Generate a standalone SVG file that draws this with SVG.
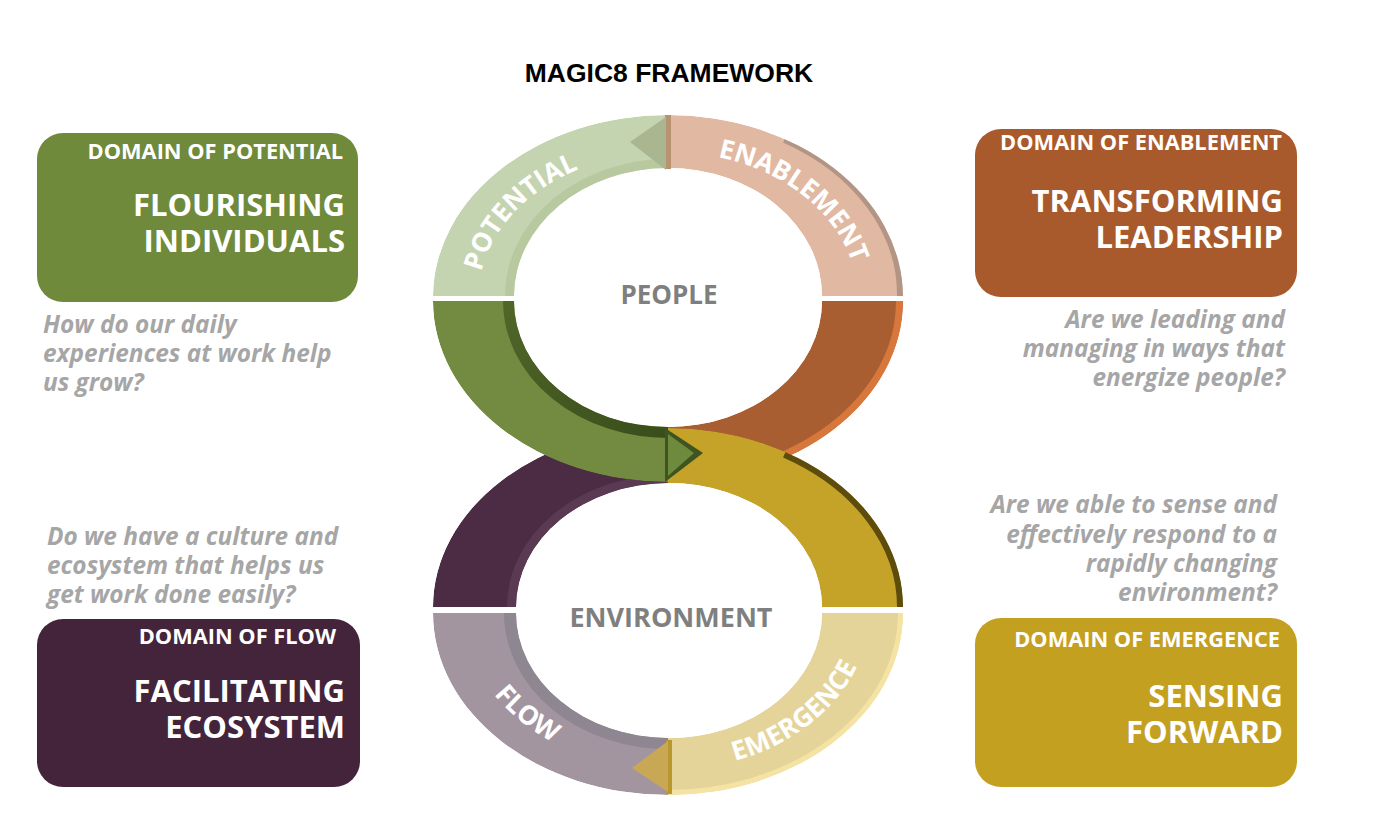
<svg xmlns="http://www.w3.org/2000/svg" width="1378" height="836" viewBox="0 0 1378 836">
<style>
.title{font-family:"Liberation Sans",Arial,sans-serif;font-weight:700;font-size:26.5px;fill:#000}
.dom{font-family:"Open Sans","DejaVu Sans",sans-serif;font-weight:700;font-size:21.8px;fill:#fff}
.big{font-family:"Open Sans","DejaVu Sans",sans-serif;font-weight:700;font-size:31px;fill:#fff}
.q{font-family:"Open Sans","DejaVu Sans",sans-serif;font-weight:700;font-style:italic;font-size:24.4px;fill:#a6a6a6}
.arc{font-family:"Open Sans","DejaVu Sans",sans-serif;font-weight:700;font-size:26.5px;fill:#fff}
.hub{font-family:"Open Sans","DejaVu Sans",sans-serif;font-weight:700;fill:#7f7f7f}
</style>
<defs>
<path id="sPot" d="M 433 296 A 235 182 0 0 1 668 115 L 668 168 A 154 128 0 0 0 514 296 Z"/>
<path id="sEn" d="M 668 115 A 235 182 0 0 1 903 296 L 822 296 A 154 128 0 0 0 668 168 Z"/>
<path id="sGr" d="M 433 301 A 235 181 0 0 0 668 482 L 668 427 A 154 126 0 0 1 514 301 Z"/>
<path id="sOr" d="M 903 301 A 235 181 0 0 1 668 482 L 668 427 A 154 126 0 0 0 822 301 Z"/>
<path id="sPu" d="M 433 607 A 235 179 0 0 1 668 428 L 668 483 A 153 124 0 0 0 516 607 Z"/>
<path id="sYe" d="M 668 428 A 235 179 0 0 1 903 607 L 822 607 A 153 124 0 0 0 668 483 Z"/>
<path id="sFl" d="M 433 613 A 235 182 0 0 0 668 795 L 668 738 A 153 125 0 0 1 516 613 Z"/>
<path id="sEm" d="M 903 613 A 235 182 0 0 1 668 795 L 668 738 A 153 125 0 0 0 822 613 Z"/>
<clipPath id="cPot"><use href="#sPot"/></clipPath>
<clipPath id="cEn"><use href="#sEn"/></clipPath>
<clipPath id="cGr"><use href="#sGr"/></clipPath>
<clipPath id="cOr"><use href="#sOr"/></clipPath>
<clipPath id="cPu"><use href="#sPu"/></clipPath>
<clipPath id="cYe"><use href="#sYe"/></clipPath>
<clipPath id="cFl"><use href="#sFl"/></clipPath>
<clipPath id="cEm"><use href="#sEm"/></clipPath>
<path id="tPot" d="M 478 298 A 188 146 0 0 1 603.7 160.8"/>
<path id="tEn" d="M 700.6 154.2 A 188 146 0 0 1 856 280"/>
<path id="tFl" d="M 470 651.4 A 202 160 0 0 0 598.9 760.4"/>
<path id="tEm" d="M 700 768 A 202 160 0 0 0 868 632.3"/>
<linearGradient id="gGrBand" x1="0" y1="0" x2="1" y2="1">
  <stop offset="0" stop-color="#5a722f"/>
  <stop offset="1" stop-color="#2f4215"/>
</linearGradient>
</defs>

<text class="title" x="669" y="82" text-anchor="middle">MAGIC8 FRAMEWORK</text>

<g id="figure8">
  <g id="seg-flow-top" clip-path="url(#cPu)">
    <use href="#sPu" fill="#4c2c44"/>
    <ellipse cx="668" cy="607" rx="153" ry="124" fill="none" stroke="#5a3a52" stroke-width="16"/>
  </g>
  <g id="seg-enable-bottom" clip-path="url(#cOr)">
    <use href="#sOr" fill="#a95e31"/>
    <path d="M 903 301 A 235 181 0 0 1 785.5 457.8" fill="none" stroke="#d8773c" stroke-width="14"/>
  </g>
  <g id="seg-potential-bottom" clip-path="url(#cGr)">
    <use href="#sGr" fill="#728b40"/>
    <ellipse cx="668" cy="301" rx="154" ry="126" fill="none" stroke="url(#gGrBand)" stroke-width="22"/>
  </g>
  <g id="seg-emergence-top" clip-path="url(#cYe)">
    <use href="#sYe" fill="#c5a228"/>
    <path d="M 785.5 452 A 235 179 0 0 1 903 607" fill="none" stroke="#5e4c0c" stroke-width="12"/>
  </g>
  <g id="seg-potential" clip-path="url(#cPot)">
    <use href="#sPot" fill="#c5d4b0"/>
    <ellipse cx="668" cy="296" rx="154" ry="128" fill="none" stroke="#b8c9a0" stroke-width="18"/>
  </g>
  <g id="seg-enablement" clip-path="url(#cEn)">
    <use href="#sEn" fill="#e1b8a2"/>
    <path d="M 785.5 137 A 235 182 0 0 1 903 296" fill="none" stroke="#b39585" stroke-width="12"/>
  </g>
  <g id="seg-flow" clip-path="url(#cFl)">
    <use href="#sFl" fill="#a3959f"/>
    <ellipse cx="668" cy="613" rx="153" ry="125" fill="none" stroke="#8e8690" stroke-width="22"/>
  </g>
  <g id="seg-emergence" clip-path="url(#cEm)">
    <use href="#sEm" fill="#e5d499"/>
    <ellipse cx="668" cy="613" rx="235" ry="182" fill="none" stroke="#f4e3a2" stroke-width="10"/>
  </g>
  <g id="arrowheads">
    <rect x="665" y="115" width="6" height="54" fill="#b9936f"/>
    <polygon points="666,117 630,142 666,170" fill="#a9b690"/>
    <polygon points="665,428 703,453 665,482" fill="#3f5420"/>
    <polygon points="668,434 694,453 668,476" fill="#6e8a3c"/>
    <rect x="666" y="740" width="6" height="54" fill="#b9972f"/>
    <polygon points="668,741 632,768 668,792" fill="#c8a855"/>
  </g>
</g>

<g id="labels-ring">
  <text class="arc"><textPath href="#tPot" startOffset="50%" text-anchor="middle">POTENTIAL</textPath></text>
  <text class="arc"><textPath href="#tEn" startOffset="50%" text-anchor="middle">ENABLEMENT</textPath></text>
  <text class="arc"><textPath href="#tFl" startOffset="50%" text-anchor="middle">FLOW</textPath></text>
  <text class="arc"><textPath href="#tEm" startOffset="50%" text-anchor="middle">EMERGENCE</textPath></text>
  <text class="hub" x="669" y="304" font-size="26" text-anchor="middle">PEOPLE</text>
  <text class="hub" x="671" y="627" font-size="27" text-anchor="middle">ENVIRONMENT</text>
</g>

<g id="node-potential">
  <rect x="37" y="133" width="321" height="169" rx="26" fill="#6e8a3a"/>
  <text class="dom" x="343" y="159" text-anchor="end">DOMAIN OF POTENTIAL</text>
  <text class="big" x="345" y="216" text-anchor="end">FLOURISHING</text>
  <text class="big" x="345" y="252" text-anchor="end">INDIVIDUALS</text>
  <text class="q" x="43" y="333">How do our daily</text>
  <text class="q" x="43" y="362">experiences at work help</text>
  <text class="q" x="43" y="391">us grow?</text>
</g>

<g id="node-enablement">
  <rect x="975" y="129" width="322" height="168" rx="26" fill="#a85a2c"/>
  <text class="dom" x="1282" y="150" text-anchor="end">DOMAIN OF ENABLEMENT</text>
  <text class="big" x="1283" y="212" text-anchor="end">TRANSFORMING</text>
  <text class="big" x="1283" y="248" text-anchor="end">LEADERSHIP</text>
  <text class="q" x="1285" y="328" text-anchor="end">Are we leading and</text>
  <text class="q" x="1285" y="357" text-anchor="end">managing in ways that</text>
  <text class="q" x="1285" y="386" text-anchor="end">energize people?</text>
</g>

<g id="node-flow">
  <text class="q" x="47" y="545">Do we have a culture and</text>
  <text class="q" x="47" y="574">ecosystem that helps us</text>
  <text class="q" x="47" y="603">get work done easily?</text>
  <rect x="37" y="619" width="323" height="168" rx="26" fill="#44243b"/>
  <text class="dom" x="336" y="644" text-anchor="end">DOMAIN OF FLOW</text>
  <text class="big" x="345" y="702" text-anchor="end">FACILITATING</text>
  <text class="big" x="345" y="738" text-anchor="end">ECOSYSTEM</text>
</g>

<g id="node-emergence">
  <text class="q" x="1277" y="513" text-anchor="end">Are we able to sense and</text>
  <text class="q" x="1277" y="543" text-anchor="end">effectively respond to a</text>
  <text class="q" x="1277" y="572" text-anchor="end">rapidly changing</text>
  <text class="q" x="1277" y="601" text-anchor="end">environment?</text>
  <rect x="975" y="618" width="322" height="169" rx="26" fill="#c4a021"/>
  <text class="dom" x="1280" y="647" text-anchor="end">DOMAIN OF EMERGENCE</text>
  <text class="big" x="1283" y="707" text-anchor="end">SENSING</text>
  <text class="big" x="1283" y="743" text-anchor="end">FORWARD</text>
</g>
</svg>
